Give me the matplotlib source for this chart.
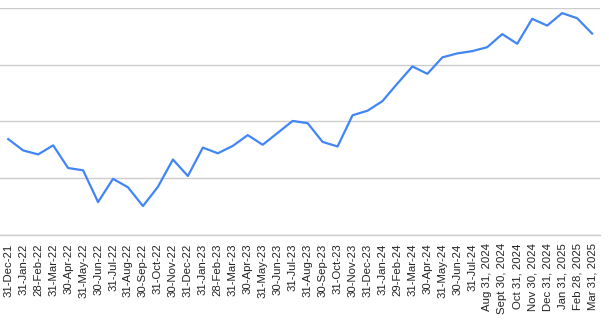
import matplotlib.pyplot as plt

# month-end labels, as shown on the sheet
labels = ["31-Dec-21", "31-Jan-22", "28-Feb-22", "31-Mar-22", "30-Apr-22", "31-May-22",
          "30-Jun-22", "31-Jul-22", "31-Aug-22", "30-Sep-22", "31-Oct-22", "30-Nov-22",
          "31-Dec-22", "31-Jan-23", "28-Feb-23", "31-Mar-23", "30-Apr-23", "31-May-23",
          "30-Jun-23", "31-Jul-23", "31-Aug-23", "30-Sep-23", "31-Oct-23", "30-Nov-23",
          "31-Dec-23", "31-Jan-24", "29-Feb-24", "31-Mar-24", "30-Apr-24", "31-May-24",
          "30-Jun-24", "31-Jul-24", "Aug 31, 2024", "Sept 30, 2024", "Oct 31, 2024",
          "Nov 30, 2024", "Dec 31, 2024", "Jan 31, 2025", "Feb 28, 2025", "Mar 31, 2025"]

values = [16.9, 14.9, 14.2, 15.8, 11.8, 11.4, 5.8, 9.9, 8.4, 5.1,
          8.5, 13.3, 10.4, 15.4, 14.4, 15.7, 17.6, 15.9, 18.0, 20.1,
          19.7, 16.4, 15.6, 21.1, 21.9, 23.6, 26.7, 29.7, 28.4, 31.3,
          32.0, 32.4, 33.1, 35.4, 33.7, 38.1, 36.9, 39.1, 38.2, 35.5]

plt.rcParams['font.family'] = ['Liberation Sans', 'DejaVu Sans']

fig = plt.figure(figsize=(6.09, 3.24), dpi=100)
ax = fig.add_axes([0, 89 / 324, 600 / 609, 227 / 324])

x = list(range(len(values)))
ax.plot(x, values, color="#4285f4", linewidth=1.6, clip_on=False, zorder=3)

ax.set_xlim(-0.55, len(values) - 0.47)
ax.set_ylim(0, 40)
ax.set_yticks([0, 10, 20, 30, 40])
ax.yaxis.grid(True, color="#cccccc", linewidth=1)
ax.tick_params(axis="y", left=False, labelleft=False)

ax.set_xticks(x)
ax.set_xticklabels(labels, rotation=90, fontsize=8.2, color="#222222")
ax.tick_params(axis="x", length=0, pad=6)

for s in ["top", "right", "left"]:
    ax.spines[s].set_visible(False)
ax.spines["bottom"].set_color("#cccccc")
ax.spines["bottom"].set_linewidth(1)

fig.savefig("out.png", dpi=100)
